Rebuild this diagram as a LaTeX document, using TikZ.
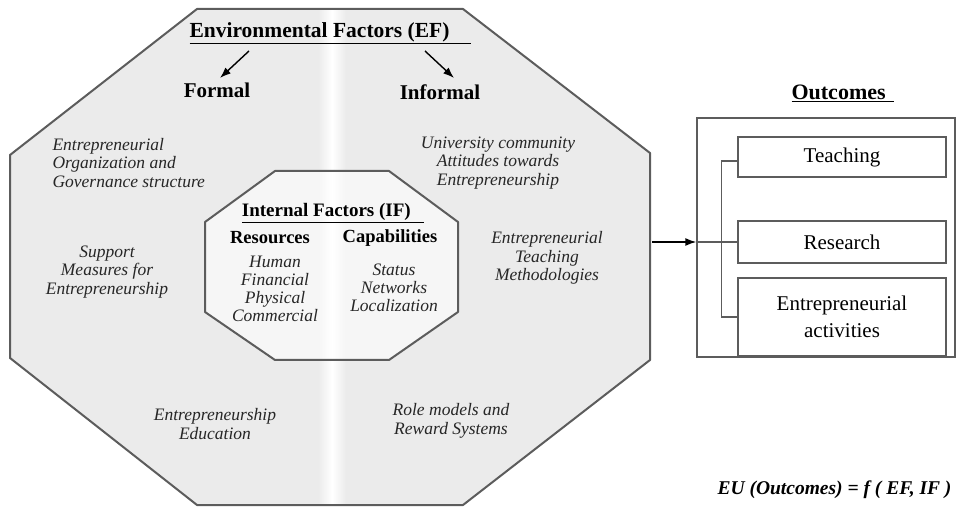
\documentclass[tikz,border=0pt]{standalone}
\usepackage{fontspec}
\setmainfont{Liberation Serif}
\usetikzlibrary{arrows.meta}

\definecolor{efgray}{HTML}{EBEBEB}
\definecolor{ifgray}{HTML}{F6F6F6}
\definecolor{linegray}{HTML}{5C5C5C}

\newcommand{\efoct}{(197,9) -- (463,9) -- (650,153) -- (650,360) -- (463,505) -- (197,505) -- (10,358) -- (10,155) -- cycle}
\newcommand{\ifoct}{(275,171) -- (389,171) -- (458,222) -- (458,312) -- (389,360) -- (275,360) -- (205,312) -- (205,222) -- cycle}

\tikzset{
  hd/.style={font=\fontsize{21}{24}\selectfont\bfseries},
  fac/.style={font=\fontsize{17.5}{18.5}\selectfont\itshape, align=center, text=black!85},
  outitem/.style={draw=linegray, line width=1.4pt, fill=white, minimum width=208pt,
    minimum height=40pt, align=center, font=\fontsize{21}{27}\selectfont},
  arr/.style={-{Latex[length=11pt,width=8pt]}, line width=1.4pt}
}

\begin{document}
\begin{tikzpicture}[x=1pt,y=-1pt]
  \useasboundingbox (0,0) rectangle (958,518);

  % environmental factors
  \fill[efgray] \efoct;
  \begin{scope}
    \clip \efoct;
    \shade[left color=efgray, right color=efgray, middle color=white] (318,0) rectangle (346,518);
  \end{scope}
  \draw[linegray, line width=2pt, line join=round] \efoct;

  % internal factors
  \fill[ifgray] \ifoct;
  \begin{scope}
    \clip \ifoct;
    \shade[left color=ifgray, right color=ifgray, middle color=white] (319,0) rectangle (345,518);
  \end{scope}
  \draw[linegray, line width=2pt, line join=round] \ifoct;

  \node[hd, font=\fontsize{21.5}{24}\selectfont\bfseries, anchor=west] (ef) at (186,33) {\underline{Environmental Factors (EF)\hspace{1em}}};
  \node[hd] (formal)   at (217,90) {Formal};
  \node[hd] (informal) at (440,92) {Informal};

  \coordinate (ef-l) at (249,51);
  \coordinate (ef-r) at (425,51);
  \coordinate (formal-in)   at (220,78);
  \coordinate (informal-in) at (454,78);
  \draw[arr] (ef-l) -- (formal-in);
  \draw[arr] (ef-r) -- (informal-in);

  \begin{scope}[every node/.style={fac}]
    \node[align=left, anchor=west] (orggov) at (49,163) {Entrepreneurial\\Organization and\\Governance structure};
    \node (univ)      at (498,163) {University community\\Attitudes towards\\Entrepreneurship};
    \node (support)   at (107,272) {Support\\Measures for\\Entrepreneurship};
    \node (teachmeth) at (547,258) {Entrepreneurial\\Teaching\\Methodologies};
    \node (edu)       at (215,424) {Entrepreneurship\\Education};
    \node (rolemod)   at (451,421) {Role models and\\Reward Systems};
  \end{scope}

  \node[hd, font=\fontsize{19}{22}\selectfont\bfseries] (if) at (333,213) {\underline{Internal Factors (IF)\hspace{.7em}}};
  \node[font=\fontsize{18.5}{22}\selectfont\bfseries] (resources)    at (270,238) {Resources};
  \node[font=\fontsize{18.5}{22}\selectfont\bfseries] (capabilities) at (390,238) {Capabilities};

  \begin{scope}[every node/.style={fac, font=\fontsize{17.5}{17.8}\selectfont\itshape}]
    \node (reslist) at (275,289) {Human\\Financial\\Physical\\Commercial};
    \node (caplist) at (394,288) {Status\\Networks\\Localization};
  \end{scope}

  % outcomes
  \node[font=\fontsize{22}{24}\selectfont\bfseries] (outt) at (843,93) {\underline{Outcomes\hspace{.4em}}};
  \node[draw=linegray, line width=1.4pt, minimum width=258pt, minimum height=239pt] (out) at (826,237.5) {};
  \node[outitem] (teach) at (842,157) {Teaching};
  \node[outitem, minimum height=42pt] (res) at (842,242) {Research};
  \node[outitem, minimum height=78pt] (entre) at (842,317) {Entrepreneurial\\activities};

  \draw[linegray, line width=1.2pt] (teach.west) ++(0,4) -- ++(-16,0) |- (entre.west);
  \draw[linegray, line width=1.2pt] (res.west) -- (res.west -| out.west);

  \coordinate (ef-out) at (652,242);
  \draw[arr] (ef-out) -- (ef-out -| out.west);

  \node[font=\fontsize{19.5}{22}\selectfont\bfseries\itshape, anchor=east] (eu) at (955,490) {EU (Outcomes) = f ( EF, IF )};
\end{tikzpicture}
\end{document}
